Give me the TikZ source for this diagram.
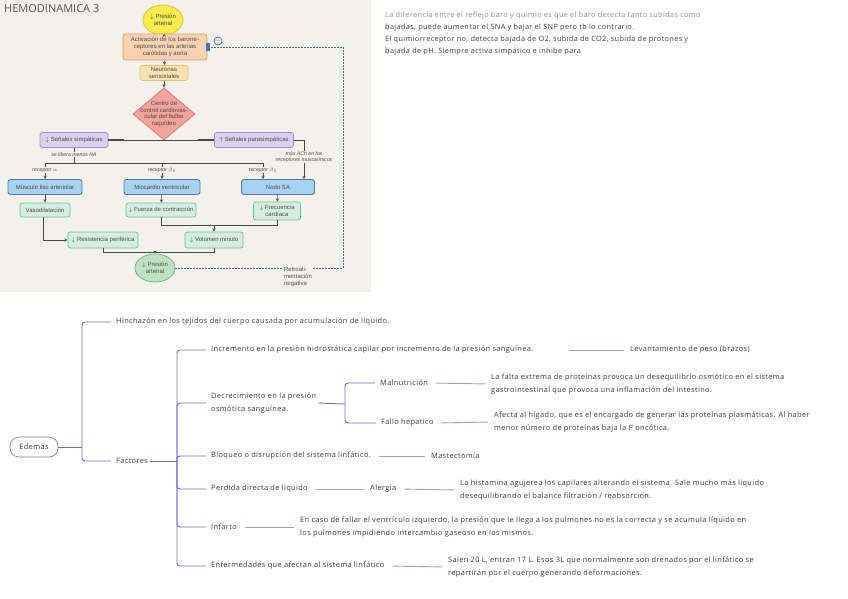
\documentclass[tikz,border=0pt]{standalone}
\usepackage{fontspec}
\setmainfont{Open Sans}
\newfontfamily\fcfont{Liberation Sans}
\newfontfamily\mmfont{Open Sans}[LetterSpace=5]
\usepackage{xcolor}
\usepackage{tikz}
\usetikzlibrary{shapes.geometric,positioning}
\definecolor{imgbg}{HTML}{F3F1EB}
\definecolor{fcline}{HTML}{4A4A4A}
\definecolor{fbblue}{HTML}{3D73B5}
\definecolor{yelfill}{HTML}{F8EC4C}
\definecolor{yeldraw}{HTML}{D9C22E}
\definecolor{orfill}{HTML}{F9D3B1}
\definecolor{ordraw}{HTML}{E29A63}
\definecolor{neufill}{HTML}{FBE2AE}
\definecolor{neudraw}{HTML}{E6BE73}
\definecolor{diafill}{HTML}{F3A39B}
\definecolor{diadraw}{HTML}{D9756C}
\definecolor{lavfill}{HTML}{D9D2EF}
\definecolor{lavdraw}{HTML}{9C8FC9}
\definecolor{bluefill}{HTML}{A8D2F0}
\definecolor{bluedraw}{HTML}{4B7DB5}
\definecolor{grnfill}{HTML}{D5EEE3}
\definecolor{grndraw}{HTML}{6DBE9C}
\definecolor{ovfill}{HTML}{BFE3C2}
\definecolor{ovdraw}{HTML}{6CAF7B}
\definecolor{mmline}{HTML}{7A62CB}
\definecolor{mmlight}{HTML}{A696E0}
\definecolor{mmtext}{HTML}{3B3B3B}

\begin{document}
\begin{tikzpicture}[x=1pt,y=-1pt,
      fcnode/.style={font=\fcfont\fontsize{6}{6.8}\selectfont,text=fcline,align=center,inner sep=1.5pt},
      box/.style={fcnode,rectangle,rounded corners=2.5pt,line width=0.7pt},
      lav/.style={box,fill=lavfill,draw=lavdraw,minimum height=15},
      blu/.style={box,fill=bluefill,draw=bluedraw,line width=0.9pt,minimum height=15},
      grn/.style={box,fill=grnfill,draw=grndraw,minimum height=14},
      lbl/.style={font=\fcfont\itshape\fontsize{5.2}{6}\selectfont,text=fcline,fill=imgbg,inner sep=0.8pt,align=center},
      fcarrow/.style={->,>=stealth,draw=fcline,line width=0.5pt},
      fcjoin/.style={draw=fcline,line width=0.5pt},
      fb/.style={draw=fbblue,dashed,dash pattern=on 2pt off 1pt,line width=0.9pt},
      leaf/.style={font=\mmfont\fontsize{7.4}{12.5}\selectfont,text=mmtext,anchor=west,inner sep=2pt,align=left},
      branch/.style={draw=mmline,line width=0.9pt,rounded corners=3pt,shorten >=3pt},
      lead/.style={draw=mmlight,line width=0.9pt,shorten <=6pt,shorten >=4pt}]
  \useasboundingbox (0,0) rectangle (848,599);
  \fill[imgbg] (0,0) rectangle (371,292);
  \node[anchor=west,font=\fontsize{11}{13}\selectfont,text=black!65,inner sep=0] (titulo) at (4,9) {HEMODINAMICA 3};

  % reflejo barorreceptor
  \node[fcnode,ellipse,fill=yelfill,draw=yeldraw,line width=0.7pt,minimum width=40,minimum height=30,inner sep=0] (pres) at (163,20) {$\downarrow$ Presión\\arterial};
  \node[box,fill=orfill,draw=ordraw,minimum width=84,minimum height=26] (activ) at (165,47) {Activación de los barorre-\\ceptores en las arterias\\carótidas y aorta};
  \node[box,fill=neufill,draw=neudraw,minimum width=48,minimum height=15] (neur) at (164,73) {Neuronas\\sensoriales};
  \node[fcnode,diamond,aspect=1.2,inner sep=-5pt,fill=diafill,draw=diadraw,line width=0.7pt,minimum width=62,minimum height=52] (centro) at (164,114) {Centro de\\control cardiovas-\\cular del bulbo\\raquídeo};
  \node[lav,minimum width=68] (simp) at (74,140) {$\downarrow$ Señales simpáticas};
  \node[lav,minimum width=79] (para) at (254,140) {$\uparrow$ Señales parasimpáticas};
  \node[blu,minimum width=74] (musc) at (45,187) {Músculo liso arteriolar};
  \node[blu,minimum width=76] (mioc) at (162,187) {Miocardio ventricular};
  \node[blu,minimum width=73] (nodo) at (278,187) {Nodo SA};
  \node[grn,minimum width=50] (vaso) at (45,210) {Vasodilatación};
  \node[grn,minimum width=70] (fuer) at (161,210) {$\downarrow$ Fuerza de contracción};
  \node[grn,minimum width=47,minimum height=18] (frec) at (277,211) {$\downarrow$ Frecuencia\\cardíaca};
  \node[grn,minimum width=70,minimum height=16] (resi) at (103,240) {$\downarrow$ Resistencia periférica};
  \node[grn,minimum width=58,minimum height=16] (volu) at (214,240) {$\downarrow$ Volumen minuto};
  \node[fcnode,ellipse,fill=ovfill,draw=ovdraw,line width=0.7pt,minimum width=40,minimum height=28,inner sep=0] (pres2) at (155,268) {$\downarrow$ Presión\\arterial};
  \coordinate (sj) at (74,163);
  \coordinate (vj) at (214,225);
  \coordinate (rj) at (155,252);
  \coordinate (fbc) at (343,268);

  \draw[fcarrow] (pres) -- (activ);
  \draw[fcarrow] (activ) -- (neur);
  \draw[fcarrow] (neur) -- (centro);
  \draw[fcjoin] (simp.east) -- (para.west);
  \draw[line width=1.6pt,draw=fcline] (simp.east) -- ++(16,0);
  \draw[line width=1.6pt,draw=fcline] (para.west) -- ++(-16,0);
  \draw[fcjoin] (simp.south) -- node[lbl,pos=0.45] {se libera menos NA} (sj);
  \draw[fcarrow] (sj) -| node[lbl,pos=0.72] {receptor $\alpha$} (musc.north);
  \draw[fcarrow] (sj) -| node[lbl,pos=0.72] {receptor $\beta_1$} (mioc.north);
  \draw[fcarrow] (sj) -| node[lbl,pos=0.72] {receptor $\beta_1$} ([xshift=-15pt]nodo.north);
  \draw[fcarrow] (para.east) -| node[lbl,pos=0.72] {más ACh en los\\receptores muscarínicos} ([xshift=26pt]nodo.north);
  \draw[fcarrow] (musc) -- (vaso);
  \draw[fcarrow] (mioc) -- (fuer);
  \draw[fcarrow] (nodo) -- (frec);
  \draw[fcarrow] ([xshift=-2pt]vaso.south) |- (resi.west);
  \draw[fcjoin] (fuer.south) |- (vj);
  \draw[fcjoin] (frec.south) |- (vj);
  \draw[fcarrow] (vj) -- (volu.north);
  \draw[fcjoin] (resi.south) |- (rj);
  \draw[fcjoin] (volu.south) |- (rj);
  \draw[fcarrow] (rj) -- (pres2.north);
  \draw[fb] (pres2.east) -- (fbc) |- (activ.east);
  \fill[fbblue] ([xshift=-1pt,yshift=4pt]activ.east) rectangle ([xshift=2.5pt,yshift=-4pt]activ.east);
  \node[circle,draw=fbblue,line width=0.7pt,inner sep=0,minimum size=8,text=fbblue,font=\fontsize{6}{6}\selectfont] (menos) at (218,41) {$-$};
  \node[fcnode,fill=imgbg,align=left,inner sep=1pt] (retro) at (298,277) {Retroali-\\mentación\\negativa};

  % nota
  \node[anchor=north west,font=\mmfont\fontsize{7.3}{12}\selectfont,text=mmtext,align=left,inner sep=0] (nota) at (385,12) {{\color{black!45}La diferencia entre el reflejo baro y quimio es que el baro detecta tanto subidas como}\\bajadas, puede aumentar el SNA y bajar el SNP pero tb lo contrario.\\El quimiorreceptor no, detecta bajada de O2, subida de CO2, subida de protones y\\bajada de pH. Siempre activa simpático e inhibe para};

  % mapa edemas
  \node[draw=mmline!55!gray,line width=0.6pt,rounded corners=9pt,minimum width=48,minimum height=20,font=\mmfont\fontsize{7.4}{8}\selectfont,text=mmtext] (edemas) at (34,447) {Edemas};
  \node[leaf] (hinch) at (114,322) {Hinchazón en los tejidos del cuerpo causada por acumulación de líquido.};
  \node[leaf] (fact) at (114,461) {Factores};
  \node[leaf] (incr) at (209,350) {Incremento en la presión hidrostática capilar por incremento de la presión sanguínea.};
  \node[leaf] (decr) at (209,403) {Decrecimiento en la presión\\osmótica sanguínea.};
  \node[leaf] (bloq) at (209,456) {Bloqueo o disrupción del sistema linfático.};
  \node[leaf] (perd) at (209,489) {Perdida directa de liquido};
  \node[leaf] (infa) at (209,527) {Infarto};
  \node[leaf] (enfe) at (209,566) {Enfermedades que afectan al sistema linfático};
  \node[leaf] (leva) at (628,350) {Levantamiento de peso (brazos)};
  \node[leaf] (maln) at (378,383) {Malnutrición};
  \node[leaf] (fall) at (379,423) {Fallo hepatico};
  \node[leaf] (mast) at (429,456) {Mastectomía};
  \node[leaf] (alrg) at (368,489) {Alergia};
  \node[leaf] (falt) at (489,384) {La falta extrema de proteínas provoca un desequilibrio osmótico en el sistema\\gastrointestinal que provoca una inflamación del intestino.};
  \node[leaf] (afec) at (492,422) {Afecta al hígado, que es el encargado de generar las proteínas plasmáticas. Al haber\\menor número de proteínas baja la P oncótica.};
  \node[leaf] (hist) at (458,490) {La histamina agujerea los capilares alterando el sistema. Sale mucho más líquido\\desequilibrando el balance filtración / reabsorción.};
  \node[leaf] (enca) at (298,527) {En caso de fallar el ventrículo izquierdo, la presión que le llega a los pulmones no es la correcta y se acumula líquido en\\los pulmones impidiendo intercambio gaseoso en los mismos.};
  \node[leaf] (sale) at (446,567) {Salen 20 L, entran 17 L. Esos 3L que normalmente son drenados por el linfático se\\repartirán por el cuerpo generando deformaciones.};
  \coordinate (k1) at (82,447);
  \coordinate (k2) at (177,461);
  \coordinate (k3) at (345,404);

  \draw[branch,shorten >=0pt] (edemas.east) -- (k1);
  \draw[branch] (k1) |- (hinch.west);
  \draw[branch] (k1) |- (fact.west);
  \draw[branch,shorten >=0pt] (fact.east) -- (k2);
  \foreach \rama in {incr,decr,bloq,perd,infa,enfe}
    \draw[branch] (k2) |- (\rama.west);
  \draw[branch,shorten >=0pt] (decr.east) -- (k3);
  \foreach \rama in {maln,fall}
    \draw[branch] (k3) |- (\rama.west);
  \draw[lead,shorten <=34pt] (incr.east) -- (leva.west);
  \draw[lead] (maln.east) -- (falt.west);
  \draw[lead] (fall.east) -- (afec.west);
  \draw[lead] (bloq.east) -- (mast.west);
  \draw[lead] (perd.east) -- (alrg.west);
  \draw[lead] (alrg.east) -- (hist.west);
  \draw[lead] (infa.east) -- (enca.west);
  \draw[lead] (enfe.east) -- (sale.west);
\end{tikzpicture}
\end{document}
